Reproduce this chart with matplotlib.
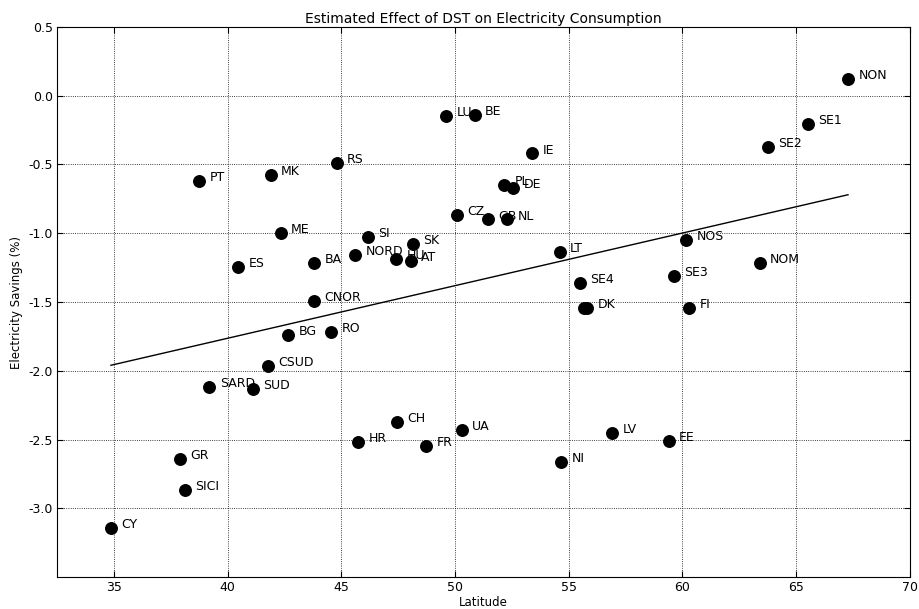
import numpy as np
import matplotlib.pyplot as plt

# country / bidding zone codes, latitude and estimated savings (%)
codes = ['CY', 'SICI', 'GR', 'SARD', 'SUD', 'CSUD', 'BG', 'RO', 'CNOR', 'BA',
         'ES', 'ME', 'PT', 'MK', 'RS', 'LU', 'BE', 'IE', 'PL', 'DE',
         'CZ', 'GB', 'NL', 'SI', 'NORD', 'SK', 'HU', 'AT', 'LT', 'SE4',
         'DK', '', 'SE3', 'NOS', 'FI', 'NOM', 'SE2', 'SE1', 'NON', 'CH',
         'HR', 'FR', 'UA', 'NI', 'LV', 'EE']
latitude = [34.87, 38.12, 37.90, 39.20, 41.10, 41.77, 42.65, 44.55, 43.80, 43.80,
            40.45, 42.34, 38.74, 41.90, 44.80, 49.60, 50.87, 53.38, 52.15, 52.55,
            50.08, 51.45, 52.28, 46.17, 45.60, 48.15, 47.40, 48.06, 54.60, 55.50,
            55.80, 55.65, 59.63, 60.15, 60.29, 63.40, 63.76, 65.52, 67.28, 47.45,
            45.73, 48.72, 50.30, 54.66, 56.90, 59.40]
savings = [-3.14, -2.87, -2.64, -2.12, -2.13, -1.965, -1.74, -1.72, -1.49, -1.215,
           -1.245, -0.997, -0.62, -0.575, -0.49, -0.146, -0.138, -0.42, -0.648, -0.67,
           -0.866, -0.90, -0.90, -1.026, -1.157, -1.077, -1.19, -1.20, -1.135, -1.36,
           -1.545, -1.545, -1.31, -1.048, -1.543, -1.215, -0.371, -0.204, 0.124, -2.37,
           -2.518, -2.547, -2.43, -2.664, -2.453, -2.51]

# fitted trend line end points
fit_lat = [34.87, 67.28]
fit_sav = [-1.96, -0.72]

fig = plt.figure(figsize=(9.2, 6.09), dpi=100)
ax = fig.add_axes([0.062, 0.0525, 0.927, 0.9032])

ax.plot(latitude, savings, 'o', color='black', markersize=8.3, zorder=3)
ax.plot(fit_lat, fit_sav, '-', color='black', linewidth=1.0, zorder=2)

for c, x, y in zip(codes, latitude, savings):
    if c:
        ax.annotate(c, (x, y), xytext=(7.5, 2.5), textcoords='offset points',
                    fontsize=9, va='center', ha='left')

ax.set_xlim(32.5, 70)
ax.set_ylim(-3.5, 0.5)
ax.set_xticks(np.arange(35, 71, 5))
ax.set_yticks(np.arange(-3.0, 0.51, 0.5))
ax.set_yticklabels(['%.1f' % v for v in np.arange(-3.0, 0.51, 0.5)])
ax.tick_params(direction='in', top=True, right=True, labelsize=9, length=4, pad=3)
ax.grid(True, linestyle=':', color='black', linewidth=0.6)
ax.set_axisbelow(True)
ax.set_xlabel('Latitude', fontsize=8.5, labelpad=1)
ax.set_ylabel('Electricity Savings (%)', fontsize=8.5)
ax.set_title('Estimated Effect of DST on Electricity Consumption', fontsize=10, pad=3)

fig.savefig('out.png', dpi=100, facecolor='white')
